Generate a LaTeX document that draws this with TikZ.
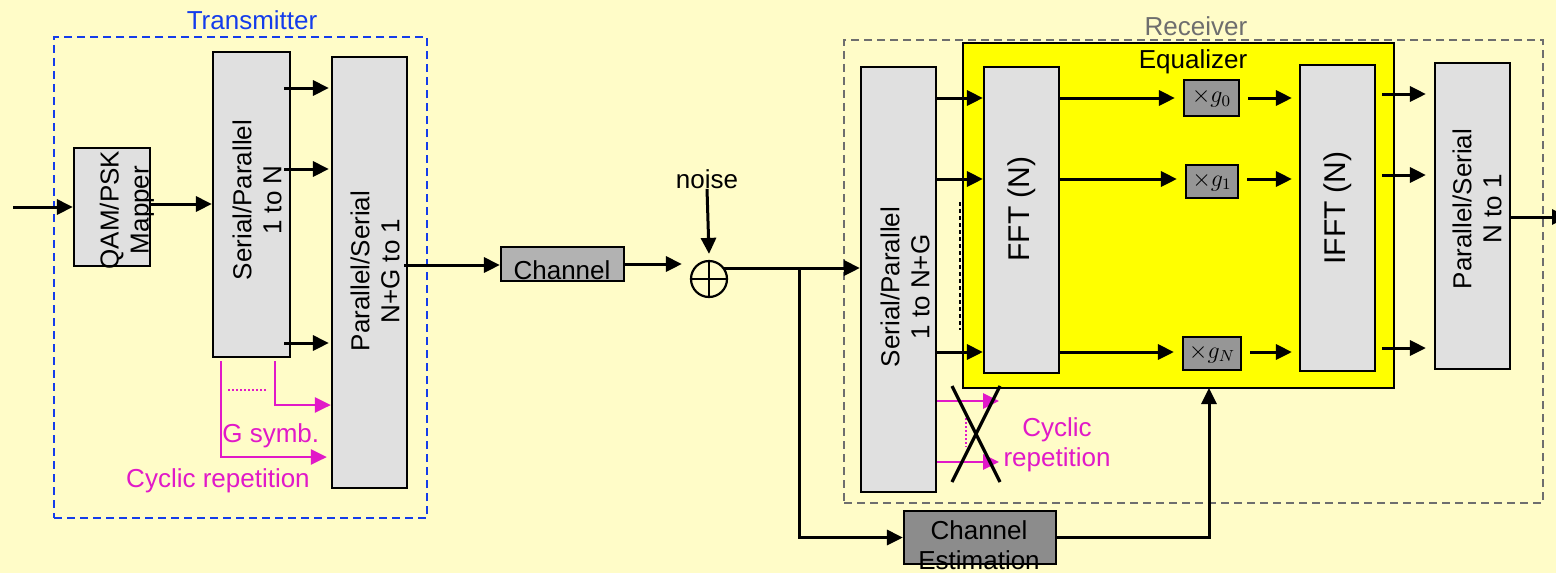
\documentclass[tikz,border=0pt]{standalone}
\usepackage{fontspec}
\setmainfont{Liberation Sans}
\usetikzlibrary{arrows.meta,fit}
\definecolor{bg}{RGB}{255,252,200}
\definecolor{boxgray}{RGB}{224,224,224}
\definecolor{chgray}{RGB}{178,178,178}
\definecolor{gboxgray}{RGB}{150,150,150}
\definecolor{estgray}{RGB}{140,140,140}
\definecolor{tblue}{RGB}{20,60,235}
\definecolor{mag}{RGB}{225,25,200}
\definecolor{rgray}{RGB}{110,110,110}
\definecolor{eqyellow}{RGB}{255,255,0}
\begin{document}
\begin{tikzpicture}[x=0.5pt,y=-0.5pt,
  blk/.style={draw=black, line width=1.1pt, fill=boxgray, inner sep=0pt},
  arr/.style={line width=1.5pt, -{Triangle[length=8pt,width=7.5pt]}},
  marr/.style={draw=mag, line width=1.4pt, -{Triangle[length=8pt,width=7.5pt]}},
  lbl/.style={font=\fontsize{13}{15}\selectfont, align=center, inner sep=0pt},
  vlbl/.style={lbl, rotate=90},
  big/.style={font=\fontsize{15}{17}\selectfont, align=center, inner sep=0pt, rotate=90},
  gsty/.style={font=\fontsize{12}{13}\selectfont, inner sep=0pt},
  frame/.style={line width=1pt, dash pattern=on 4pt off 2.5pt, inner sep=0pt}
]
\fill[bg] (0,0) rectangle (1556,573);
\useasboundingbox (0,0) rectangle (1556,573);

% ---------------- Transmitter ----------------
\node[frame, draw=tblue, fit={(54,37)(427,518)}] (txbox) {};
\node[lbl, text=tblue] (txtitle) at (252,20) {Transmitter};

\node[blk, fit={(74,148)(150,266)}] (qam) {};
\node[blk, fit={(213,52)(290,357)}] (sptx) {};
\node[blk, fit={(332,57)(407,488)}] (pstx) {};
\node[vlbl] (qamt) at (127,210) {QAM/PSK\\Mapper};
\node[vlbl] (sptxt) at (257,200) {Serial/Parallel\\1 to N};
\node[vlbl] (pstxt) at (375,271) {Parallel/Serial\\N+G to 1};

\coordinate (in) at (13,207);
\draw[arr] (in) -- (qam.west |- in);
\draw[arr] (qam.east |- 0,204) -- (sptx.west |- 0,204);
\foreach \yy in {88,169,343}
  \draw[arr] ([xshift=-3.5pt]sptx.east |- 0,\yy) -- ([xshift=-1pt]pstx.west |- 0,\yy);

\coordinate (c1) at (221,361);
\coordinate (c2) at (275,361);
\draw[marr] (c1) |- ([xshift=-2pt]pstx.west |- 0,457);
\draw[marr] (c2) |- (pstx.west |- 0,405);
\draw[mag, line width=1pt, dash pattern=on 1pt off 1pt] (228,390) -- (268,390);
\node[lbl, text=mag, anchor=west] (gsym) at (222,436) {G symb.};
\node[lbl, text=mag] (cyctx) at (218,481) {Cyclic repetition};

% ---------------- Channel ----------------
\node[blk, fill=chgray, fit={(501,247)(624,281)}] (chan) {};
\node[lbl] (chant) at (562,270) {Channel};
\draw[arr] ([xshift=-2pt]pstx.east |- 0,265) -- (chan.west |- 0,265);

\node[circle, draw, line width=1.1pt, minimum size=18pt, inner sep=0pt] (add) at (709,279) {};
\draw[line width=1.1pt] (add.north) -- (add.south) (add.west) -- (add.east);
\draw[arr] (chan.east |- 0,264) -- ([xshift=-4pt]add.west |- 0,264);
\node[lbl] (noise) at (707,179) {noise};
\draw[arr] (noise.south) -- ([yshift=3pt]add.north);

% ---------------- Receiver ----------------
\node[frame, draw=rgray, fit={(844,40)(1543,503)}] (rxbox) {};
\node[lbl, text=rgray] (rxtitle) at (1196,26) {Receiver};

\node[draw=black, line width=1.1pt, fill=eqyellow, inner sep=0pt, fit={(963,43)(1394,388)}] (eq) {};
\node[lbl] (eqt) at (1193,62) {Equalizer};

\node[blk, fit={(861,67)(936,492)}] (sprx) {};
\node[blk, fit={(984,67)(1059,373)}] (fft) {};
\node[blk, fit={(1300,65)(1375,371)}] (ifft) {};
\node[blk, fit={(1435,63)(1510,369)}] (psrx) {};
\node[vlbl] (sprxt) at (905,287) {Serial/Parallel\\1 to N+G};
\node[big] (fftt) at (1022,209) {FFT (N)};
\node[big] (ifftt) at (1338,208) {IFFT (N)};
\node[vlbl] (psrxt) at (1477,209) {Parallel/Serial\\N to 1};

\node[blk, fill=gboxgray, fit={(1184,80)(1239,116)}] (g0) {};
\node[blk, fill=gboxgray, fit={(1186,165)(1238,198)}] (g1) {};
\node[blk, fill=gboxgray, fit={(1183,337)(1241,370)}] (gN) {};
\node[gsty] (g0t) at (g0) {$\times g_0$};
\node[gsty] (g1t) at (g1) {$\times g_1$};
\node[gsty] (gNt) at (gN) {$\times g_N$};

\draw[arr] ([xshift=-2pt]add.east |- 0,268) -- (sprx.west |- 0,268);
\coordinate (br) at (799,268);

\foreach \yy/\g in {98/g0,179/g1,352/gN}{
  \draw[arr] (sprx.east |- 0,\yy) -- (fft.west |- 0,\yy);
  \draw[arr] (fft.east |- 0,\yy) -- ([xshift=-4pt]\g.west |- 0,\yy);
  \draw[arr] ([xshift=4pt]\g.east |- 0,\yy) -- ([xshift=-3.5pt]ifft.west |- 0,\yy);
}
\foreach \yy in {94,175,348}
  \draw[arr] ([xshift=3pt]ifft.east |- 0,\yy) -- ([xshift=-4pt]psrx.west |- 0,\yy);

\coordinate (out) at (1568,217);
\draw[arr] (psrx.east |- out) -- (out);

\draw[line width=1pt, dash pattern=on 2pt off 1.5pt] (960,202) -- (960,330);

% cyclic repetition removal
\draw[marr] (sprx.east |- 0,401) -- (999,401);
\draw[marr] (sprx.east |- 0,462) -- (999,462);
\draw[mag, line width=0.8pt, dash pattern=on 1pt off 1pt] (966,418) -- (966,447);
\draw[line width=1.6pt] (952,386) -- (1000,482) (1000,386) -- (952,482);
\node[lbl, text=mag] (cycrx) at (1057,445) {Cyclic\\repetition};

% channel estimation
\node[blk, fill=estgray, fit={(904,511)(1056,564)}] (est) {};
\node[lbl] (estt) at (979,545) {Channel\\Estimation};
\draw[arr] (br) |- (est.west);
\coordinate (eqin) at (1209,388);
\draw[arr] (est.east) -| (eqin);
\end{tikzpicture}
\end{document}
